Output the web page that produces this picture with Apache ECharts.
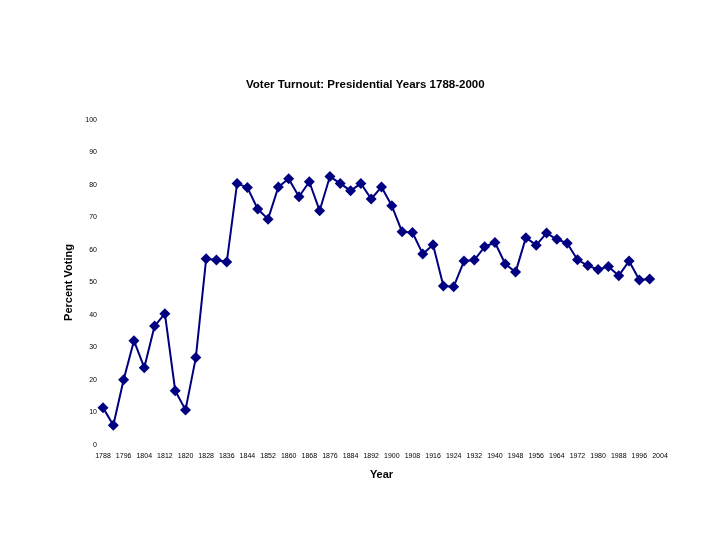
<!DOCTYPE html>
<html>
<head>
<meta charset="utf-8">
<script src="https://cdn.jsdelivr.net/npm/echarts@6/dist/echarts.min.js"></script>
<style>html,body{margin:0;padding:0;background:#fff}#c{width:720px;height:540px}</style>
</head>
<body>
<div id="c"></div>
<script>
var years = [];
for (var y = 1788; y <= 2004; y += 4) years.push(String(y));
var turnout = [11.5, 6.1, 20.1, 32.1, 23.8, 36.6, 40.4, 16.7, 10.8, 26.9,
  57.3, 56.9, 56.3, 80.5, 79.2, 72.6, 69.5, 79.4, 81.9, 76.4,
  81.0, 72.1, 82.6, 80.5, 78.2, 80.5, 75.7, 79.4, 73.6, 65.6,
  65.4, 58.8, 61.6, 48.9, 48.7, 56.6, 56.9, 61.0, 62.3, 55.7,
  53.2, 63.8, 61.5, 65.2, 63.3, 62.1, 57.0, 55.2, 54.0, 54.9,
  52.1, 56.6, 50.8, 51.1];
var titleText = 'Voter Turnout: Presidential Years 1788-2000';
var xName = 'Year';
var yName = 'Percent Voting';

var chart = echarts.init(document.getElementById('c'));
chart.setOption({
  animation: false,
  backgroundColor: '#ffffff',
  title: {
    text: titleText,
    left: 241, top: 74,
    textStyle: {fontFamily: 'Liberation Sans', fontSize: 11.5, fontWeight: 'bold', color: '#000'}
  },
  grid: {left: 103, right: 60, top: 120, bottom: 95},
  xAxis: {
    type: 'category', data: years, boundaryGap: false,
    name: xName, nameLocation: 'middle', nameGap: 24,
    nameTextStyle: {fontFamily: 'Liberation Sans', fontSize: 11, fontWeight: 'bold', color: '#000'},
    axisLine: {show: false}, axisTick: {show: false},
    axisLabel: {interval: 1, fontFamily: 'Liberation Sans', fontSize: 7, color: '#000', margin: 8},
    splitLine: {show: false}
  },
  yAxis: {
    type: 'value', min: 0, max: 100, interval: 10,
    name: yName, nameLocation: 'middle', nameGap: 27, nameRotate: 90,
    nameTextStyle: {fontFamily: 'Liberation Sans', fontSize: 11, fontWeight: 'bold', color: '#000'},
    axisLine: {show: false}, axisTick: {show: false},
    axisLabel: {fontFamily: 'Liberation Sans', fontSize: 7, color: '#000', margin: 6},
    splitLine: {show: false}
  },
  series: [{
    type: 'line', data: turnout,
    symbol: 'diamond', symbolSize: 11, showSymbol: true, showAllSymbol: true,
    lineStyle: {color: '#000080', width: 2},
    itemStyle: {color: '#000080'}
  }]
});
</script>
</body>
</html>
